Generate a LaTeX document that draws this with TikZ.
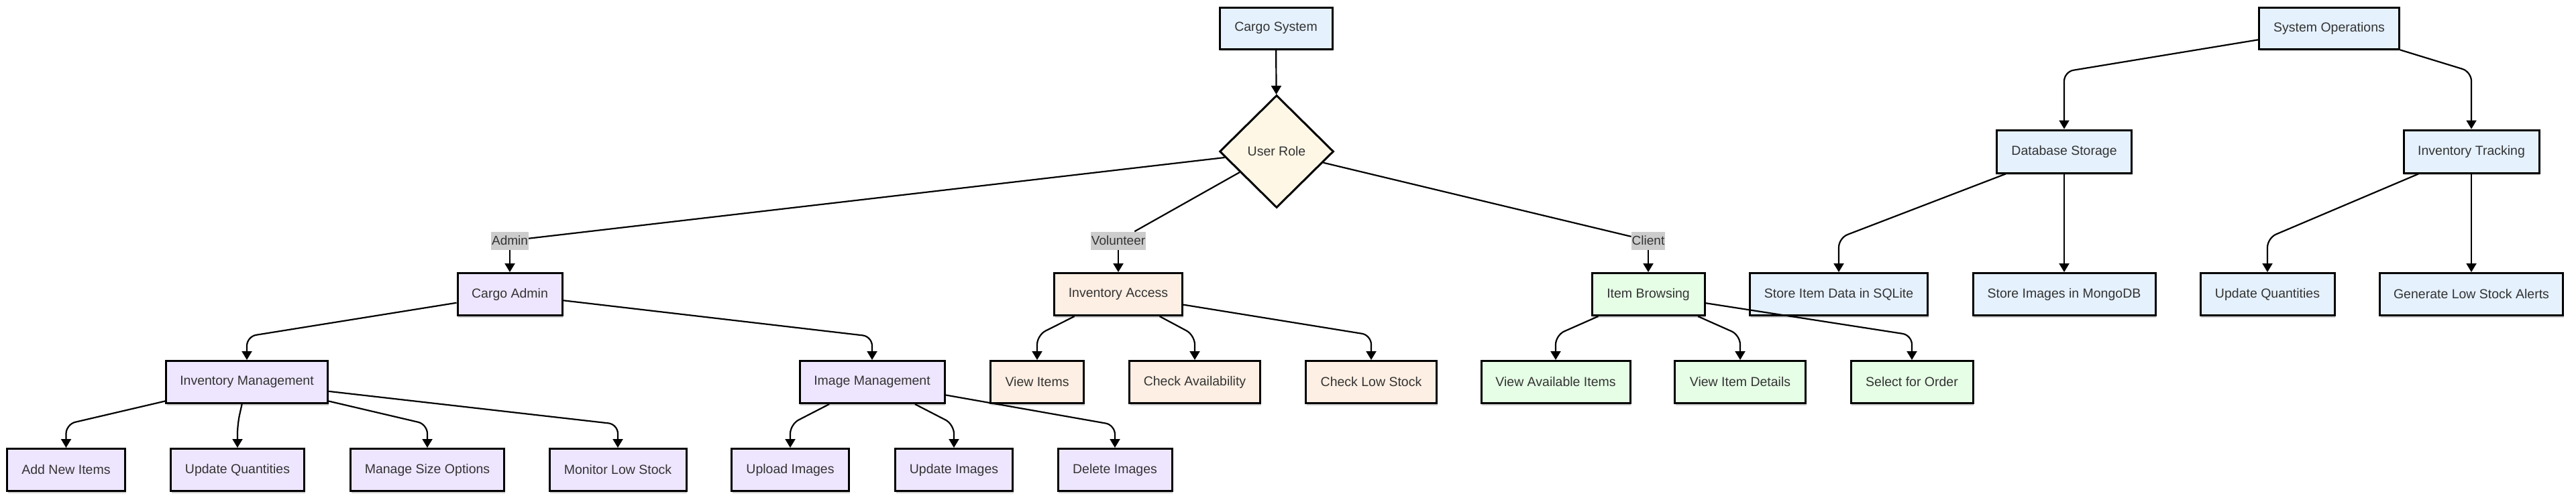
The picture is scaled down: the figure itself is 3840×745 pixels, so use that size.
\documentclass[tikz,border=0pt]{standalone}
\usepackage{fontspec}
\setmainfont{Liberation Sans}
\usetikzlibrary{shapes.geometric,arrows.meta,shadows}
\definecolor{txt}{HTML}{333333}
\definecolor{fblue}{HTML}{E5F1FD}
\definecolor{fcream}{HTML}{FFF7E6}
\definecolor{flav}{HTML}{EEE6FF}
\definecolor{fpeach}{HTML}{FDEFE3}
\definecolor{fgreen}{HTML}{E6FDE6}
\definecolor{labgray}{HTML}{CCCCCC}
\begin{document}
\begin{tikzpicture}[x=1pt,y=-1pt,
  box/.style={draw=black, line width=3pt, rectangle, minimum height=63pt, inner sep=0pt,
    text=txt, font=\fontsize{19.5}{23}\selectfont,
    drop shadow={shadow xshift=1pt, shadow yshift=-3pt, opacity=0.18, fill=black}},
  bluebox/.style={box, fill=fblue},
  lavbox/.style={box, fill=flav},
  peachbox/.style={box, fill=fpeach},
  greenbox/.style={box, fill=fgreen},
  decision/.style={draw=black, line width=3pt, diamond, fill=fcream, minimum width=170pt,
    minimum height=168pt, inner sep=0pt, text=txt, font=\fontsize{19.5}{23}\selectfont},
  lab/.style={fill=labgray, text=txt, inner xsep=1pt, inner ysep=0pt, minimum height=27pt,
    font=\fontsize{19}{22}\selectfont},
  conn/.style={draw=black, line width=2.2pt, rounded corners=14pt},
  arr/.style={conn, -{Triangle[length=13pt,width=15pt]}}
]
\fill[white] (0,0) rectangle (3840,745);
\useasboundingbox (0,0) rectangle (3840,745);

% top level
\node[bluebox, minimum width=168pt, minimum height=62pt] (cs) at (1902,42) {Cargo System};
\node[decision] (role) at (1903,226) {User Role};
\node[bluebox, minimum width=209pt, minimum height=62pt] (so) at (3472,42) {System Operations};
\node[bluebox, minimum width=201pt, minimum height=64pt] (ds) at (3077,226) {Database Storage};
\node[bluebox, minimum width=202pt, minimum height=64pt] (it) at (3684,226) {Inventory Tracking};

% edge labels
\node[lab] (ladmin) at (760,359) {Admin};
\node[lab] (lvol) at (1667,359) {Volunteer};
\node[lab] (lcli) at (2457,359) {Client};

% level 3
\node[lavbox, minimum width=156pt] (ca) at (760,439) {Cargo Admin};
\node[peachbox, minimum width=191pt] (ia) at (1667,439) {Inventory Access};
\node[greenbox, minimum width=168pt] (ib) at (2457,439) {Item Browsing};
\node[bluebox, minimum width=265pt] (sqlite) at (2741,439) {Store Item Data in SQLite};
\node[bluebox, minimum width=272pt] (mongo) at (3077,439) {Store Images in MongoDB};
\node[bluebox, minimum width=200pt] (uqb) at (3380,439) {Update Quantities};
\node[bluebox, minimum width=273pt] (gen) at (3684,439) {Generate Low Stock Alerts};

% level 4
\node[lavbox, minimum width=241pt] (im) at (368,570) {Inventory Management};
\node[lavbox, minimum width=216pt] (img) at (1300,570) {Image Management};
\node[peachbox, minimum width=139pt] (vi) at (1546,570) {View Items};
\node[peachbox, minimum width=195pt] (chk) at (1781,570) {Check Availability};
\node[peachbox, minimum width=195pt] (cls) at (2044,570) {Check Low Stock};
\node[greenbox, minimum width=222pt] (vai) at (2319,570) {View Available Items};
\node[greenbox, minimum width=195pt] (vid) at (2594,570) {View Item Details};
\node[greenbox, minimum width=182pt] (sfo) at (2850,570) {Select for Order};

% level 5
\node[lavbox, minimum width=176pt] (ani) at (98.5,701) {Add New Items};
\node[lavbox, minimum width=199pt] (uq) at (354,701) {Update Quantities};
\node[lavbox, minimum width=229pt] (mso) at (637,701) {Manage Size Options};
\node[lavbox, minimum width=204pt] (mls) at (921,701) {Monitor Low Stock};
\node[lavbox, minimum width=175pt] (up) at (1178,701) {Upload Images};
\node[lavbox, minimum width=175pt] (ui) at (1422,701) {Update Images};
\node[lavbox, minimum width=170pt] (di) at (1662,701) {Delete Images};

% connectors: top
\draw[arr] (cs) -- (role);
\draw[conn] (role) -- (ladmin);
\draw[arr] (ladmin) -- (ca);
\draw[conn] (role) -- (lvol);
\draw[arr] (lvol) -- (ia);
\draw[conn] (role) -- (lcli);
\draw[arr] (lcli) -- (ib);

% admin subtree
\draw[arr] (ca) -- (im.north |- 0,502) -- (im);
\draw[arr] (ca) -- (img.north |- 0,502) -- (img);
\draw[arr] (im) -- (ani.north |- 0,633) -- (ani);
\draw[arr] (im) -- (uq.north |- 0,633) -- (uq);
\draw[arr] (im) -- (mso.north |- 0,633) -- (mso);
\draw[arr] (im) -- (mls.north |- 0,633) -- (mls);
\draw[arr] (img) -- (up.north |- 0,633) -- (up);
\draw[arr] (img) -- (ui.north |- 0,633) -- (ui);
\draw[arr] (img) -- (di.north |- 0,634) -- (di);

% volunteer subtree
\draw[arr] (ia) -- (vi.north |- 0,500) -- (vi);
\draw[arr] (ia) -- (chk.north |- 0,500) -- (chk);
\draw[arr] (ia) -- (cls.north |- 0,500) -- (cls);

% client subtree
\draw[arr] (ib) -- (vai.north |- 0,500) -- (vai);
\draw[arr] (ib) -- (vid.north |- 0,500) -- (vid);
\draw[arr] (ib) -- (sfo.north |- 0,500) -- (sfo);

% system operations
\draw[arr] (so) -- (ds.north |- 0,107) -- (ds);
\draw[arr] (so) -- (it.north |- 0,107) -- (it);
\draw[arr] (ds) -- (sqlite.north |- 0,355) -- (sqlite);
\draw[arr] (ds) -- (mongo);
\draw[arr] (it) -- (uqb.north |- 0,355) -- (uqb);
\draw[arr] (it) -- (gen);
\end{tikzpicture}
\end{document}
